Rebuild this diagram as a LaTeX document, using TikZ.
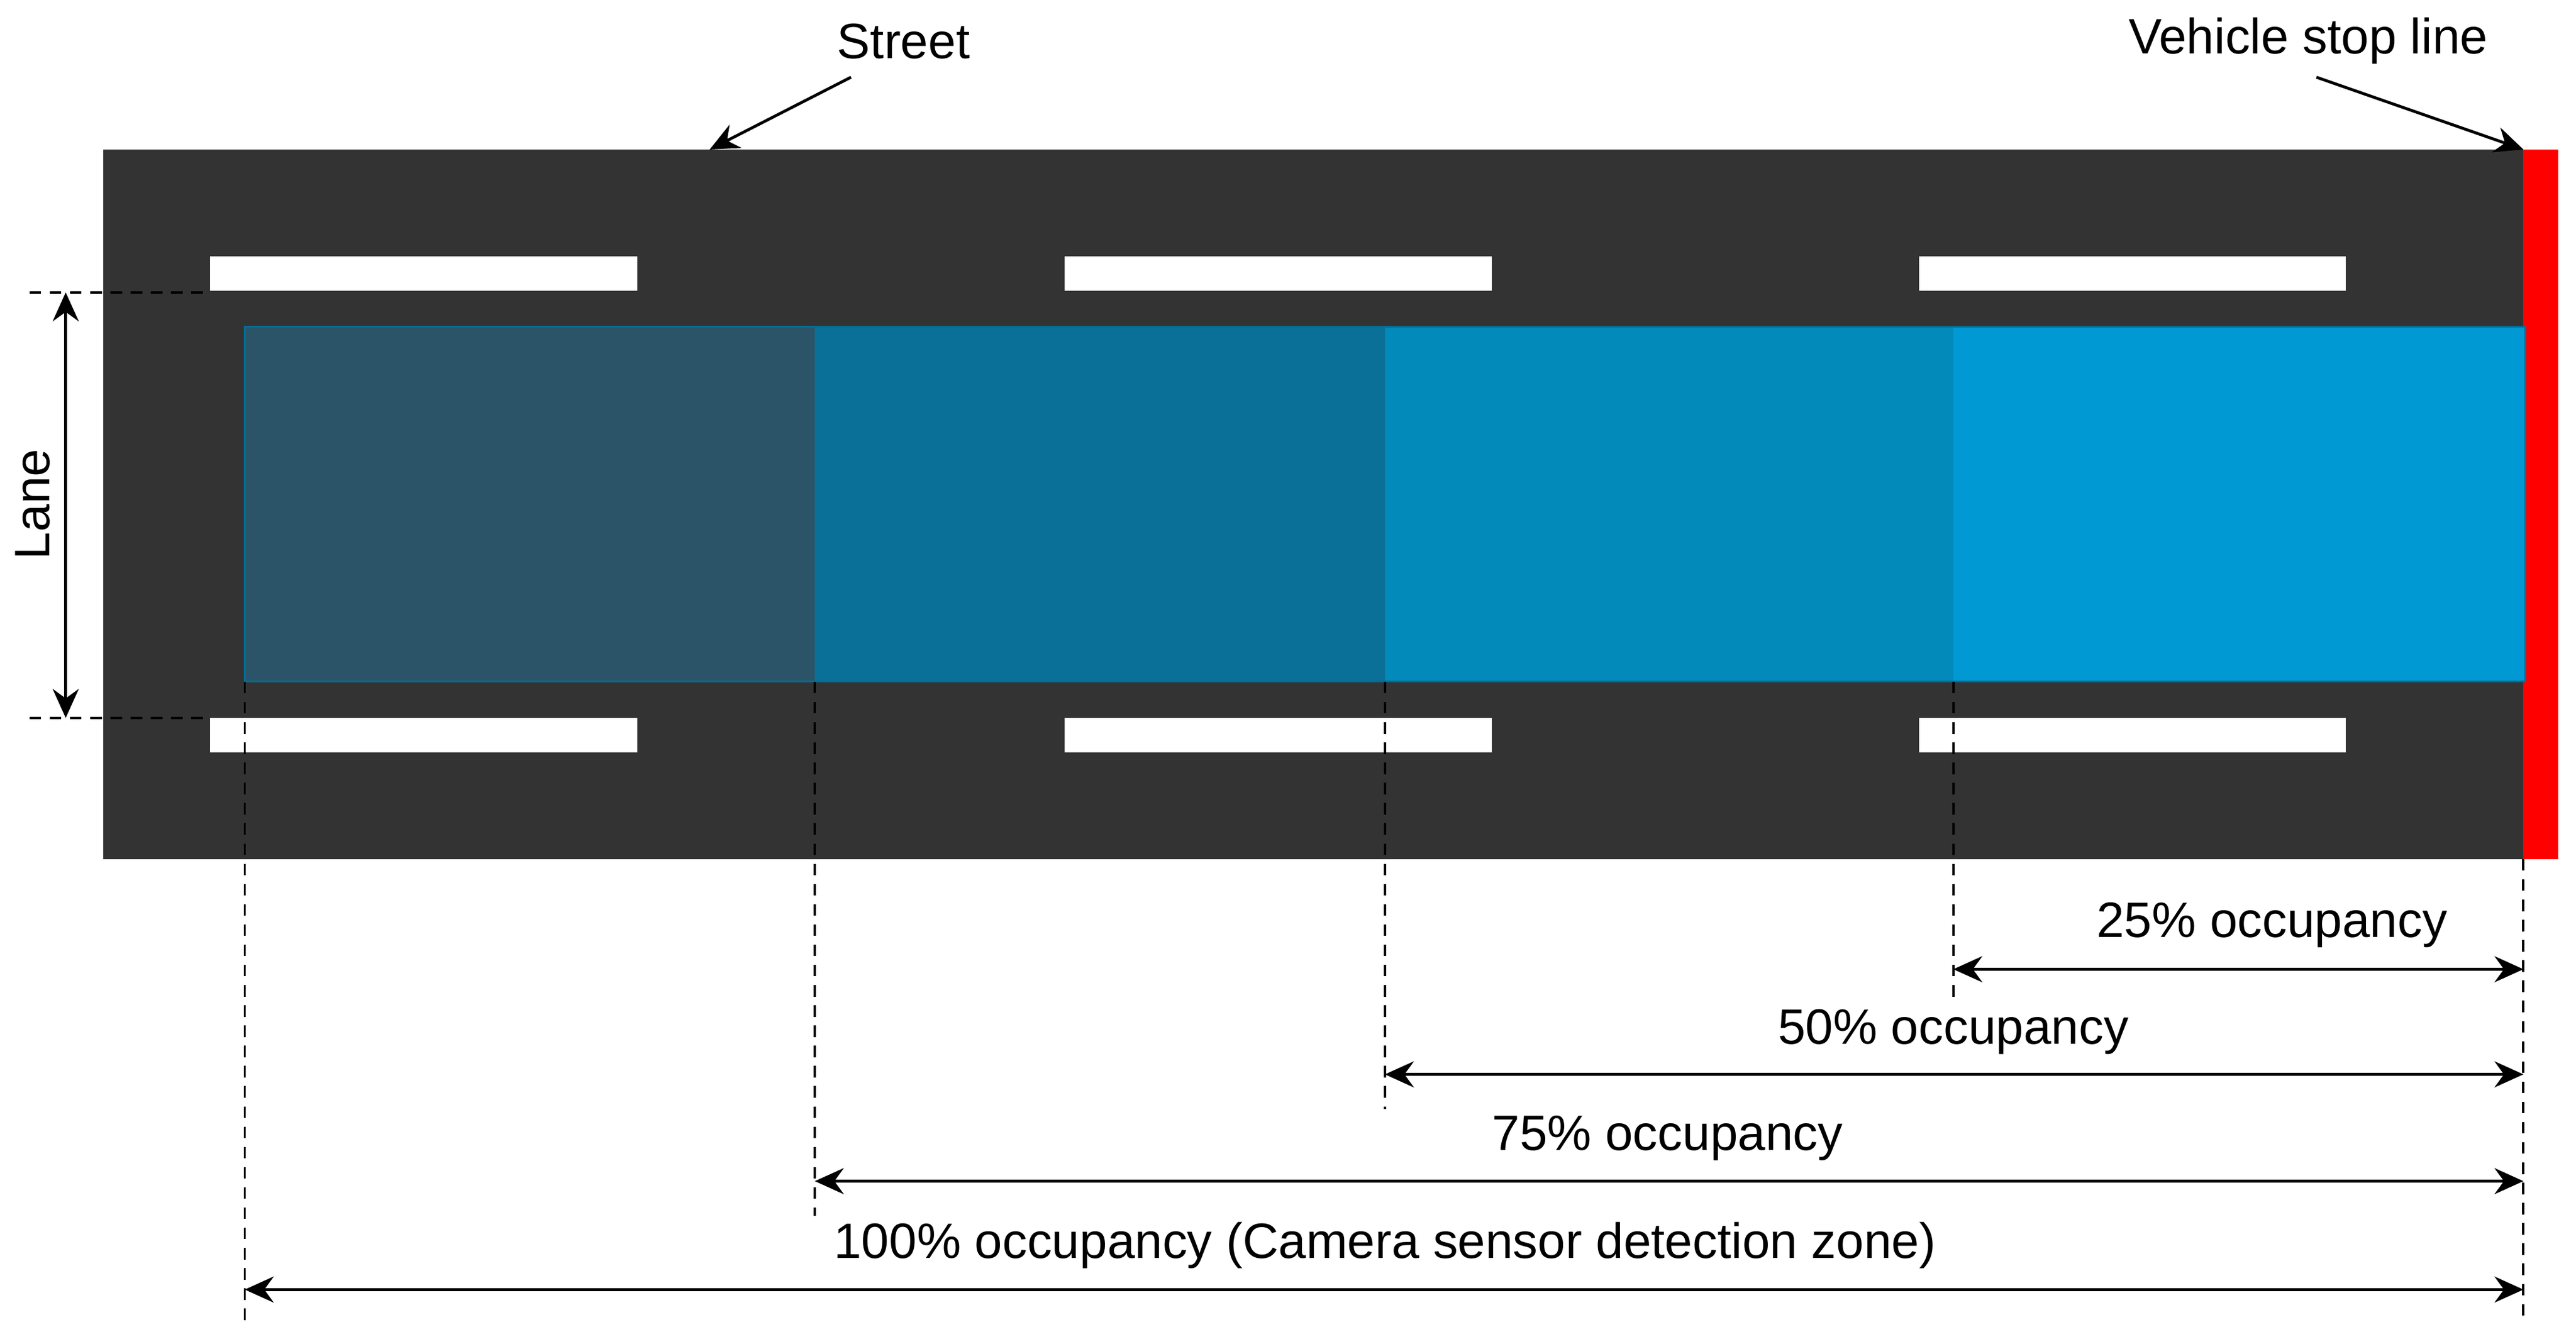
\documentclass[tikz,border=0pt]{standalone}
\usepackage{fontspec}
\setmainfont{Liberation Sans}
\usetikzlibrary{arrows.meta}
\definecolor{road}{HTML}{333333}
\definecolor{zA}{HTML}{2B5468}
\definecolor{zB}{HTML}{0B7098}
\definecolor{zC}{HTML}{028ABB}
\definecolor{zD}{HTML}{0099D4}
\tikzset{
 lbl/.style={font=\fontsize{8.6}{10}\selectfont, inner sep=0pt},
 dim/.style={{Stealth[length=5pt,width=4.5pt]}-{Stealth[length=5pt,width=4.5pt]}, line width=0.5pt},
 ptr/.style={-{Stealth[length=5pt,width=4.5pt]}, line width=0.5pt},
 ext/.style={line width=0.4pt, dash pattern=on 2pt off 1.5pt},
}
\begin{document}
\begin{tikzpicture}[x=0.01cm,y=-0.01cm]
\useasboundingbox (0,0) rectangle (1568,818);
\fill[road] (63,91) rectangle (1536,523);
\fill[red] (1536,91) rectangle (1557,523);
\foreach \x in {128,648,1168}{
 \fill[white] (\x,156) rectangle ++(260,21);
 \fill[white] (\x,437) rectangle ++(260,21);
}
\fill[zA] (149,199) rectangle (496,415);
\fill[zB] (496,199) rectangle (843,415);
\fill[zC] (843,199) rectangle (1189,415);
\fill[zD] (1189,199) rectangle (1537,415);
\draw[zC!80!black, line width=0.3pt] (149,199) rectangle (1537,415);
% lane
\draw[ext] (18,178) -- (128,178);
\draw[ext] (18,437) -- (128,437);
\coordinate (lt) at (40,178); \coordinate (lb) at (40,437);
\draw[dim] (lt) -- (lb);
\node[lbl, rotate=90] (lane) at (20,307) {Lane};
% labels top
\node[lbl] (street) at (550,25) {Street};
\coordinate (sp) at (432,91);
\draw[ptr] (518,47) -- (sp);
\node[lbl] (stop) at (1405,25) {Vehicle stop line};
\coordinate (vp) at (1536,91);
\draw[ptr] (1410,47) -- (vp);
% extension lines
\draw[ext] (149,415) -- (149,805);
\draw[ext] (496,415) -- (496,740);
\draw[ext] (843,415) -- (843,675);
\draw[ext] (1189,415) -- (1189,610);
\draw[ext] (1536,523) -- (1536,805);
% dimensions
\draw[dim] (1189,590) -- (1536,590);
\node[lbl] (o25) at (1383,563) {25\% occupancy};
\draw[dim] (843,654) -- (1536,654);
\node[lbl] (o50) at (1189,628) {50\% occupancy};
\draw[dim] (496,719) -- (1536,719);
\node[lbl] (o75) at (1015,693) {75\% occupancy};
\draw[dim] (149,785) -- (1536,785);
\node[lbl] (o100) at (843,758) {100\% occupancy (Camera sensor detection zone)};
\end{tikzpicture}
\end{document}
